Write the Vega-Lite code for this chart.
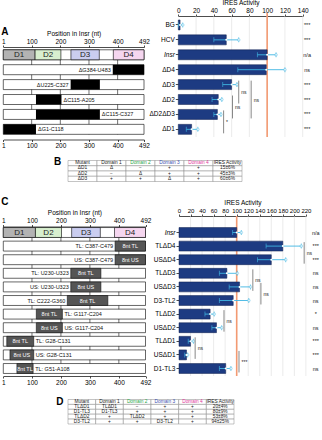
{
"$schema":"https://vega.github.io/schema/vega-lite/v6.json",
"width":322,"height":440,"autosize":"none","padding":0,"background":"white",
"config":{"font":"Liberation Sans","view":{"stroke":null},
 "axis":{"labelFontSize":6.5,"titleFontSize":6.5,"titleFontWeight":"normal","tickSize":2,"labelPadding":1,"titlePadding":2,"domainColor":"#000","tickColor":"#000","labelColor":"#000","titleColor":"#000","grid":false,"domainWidth":0.7,"tickWidth":0.7,"labelFlush":false,"labelOverlap":false}},
"datasets":{
 "ticks":[{"p":100},{"p":200},{"p":300},{"p":400}],
 "rowsA":[{"row":"Insr"},{"row":"ΔD4"},{"row":"ΔD3"},{"row":"ΔD2"},{"row":"ΔD2ΔD3"},{"row":"ΔD1"}],
 "rowsC":[{"row":"Insr"},{"row":"TLΔD4"},{"row":"USΔD4"},{"row":"TLΔD3"},{"row":"USΔD3"},{"row":"D3-TL2"},{"row":"TLΔD2"},{"row":"USΔD2"},{"row":"TLΔD1"},{"row":"USΔD1"},{"row":"D1-TL3"}],
 "domains":[{"d":"D1","s":1,"e":112},{"d":"D2","s":112,"e":202},{"d":"D3","s":237,"e":336},{"d":"D4","s":385,"e":492}],
 "delA":[{"row":"ΔD4","s":383,"e":492,"lab":"ΔG384-U483","side":"L"},{"row":"ΔD3","s":236,"e":338,"lab":"ΔU225-C327","side":"L"},{"row":"ΔD2","s":115,"e":204,"lab":"ΔC115-A205","side":"R"},{"row":"ΔD2ΔD3","s":115,"e":338,"lab":"ΔC115-C327","side":"R"},{"row":"ΔD1","s":1,"e":115,"lab":"ΔG1-C118","side":"R"}],
 "subC":[{"row":"TLΔD4","s":387,"e":492,"blk":"8nt TL","lab":"TL: C387-C479","side":"L"},{"row":"USΔD4","s":387,"e":492,"blk":"8nt US","lab":"US: C387-C479","side":"L"},{"row":"TLΔD3","s":234,"e":338,"blk":"8nt TL","lab":"TL: U230-U323","side":"L"},{"row":"USΔD3","s":234,"e":338,"blk":"8nt US","lab":"US: U230-U323","side":"L"},{"row":"D3-TL2","s":222,"e":362,"blk":"8nt TL","lab":"TL: C222-G360","side":"L"},{"row":"TLΔD2","s":115,"e":205,"blk":"8nt TL","lab":"TL: G117-C204","side":"R"},{"row":"USΔD2","s":115,"e":205,"blk":"8nt US","lab":"US: G117-C204","side":"R"},{"row":"TLΔD1","s":13,"e":106,"blk":"8nt TL","lab":"TL: G28-C131","side":"R"},{"row":"USΔD1","s":24,"e":106,"blk":"8nt US","lab":"US: G28-C131","side":"R"},{"row":"D1-TL3","s":48,"e":104,"blk":"8nt TL","lab":"TL: G51-A108","side":"R"}],
 "barsA":[{"cat":"BG","v":2,"lo":0,"hi":5,"sig":"***"},{"cat":"HCV","v":54,"lo":40,"hi":68,"sig":"***"},{"cat":"Insr","v":100,"lo":89,"hi":110,"sig":"n/a"},{"cat":"ΔD4","v":99,"lo":67,"hi":120,"sig":"ns"},{"cat":"ΔD3","v":60,"lo":50,"hi":66,"sig":"***"},{"cat":"ΔD2","v":45,"lo":38,"hi":49,"sig":"***"},{"cat":"ΔD2ΔD3","v":44,"lo":40,"hi":48,"sig":"***"},{"cat":"ΔD1","v":15,"lo":9,"hi":22,"sig":"***"}],
 "barsC":[{"cat":"Insr","v":100,"lo":93,"hi":108,"sig":"n/a"},{"cat":"TLΔD4","v":180,"lo":151,"hi":212,"sig":"***"},{"cat":"USΔD4","v":160,"lo":136,"hi":185,"sig":"***"},{"cat":"TLΔD3","v":83,"lo":70,"hi":101,"sig":"ns"},{"cat":"USΔD3","v":105,"lo":87,"hi":124,"sig":"ns"},{"cat":"D3-TL2","v":94,"lo":70,"hi":121,"sig":"ns"},{"cat":"TLΔD2","v":54,"lo":45,"hi":61,"sig":"*"},{"cat":"USΔD2","v":65,"lo":57,"hi":74,"sig":"ns"},{"cat":"TLΔD1","v":20,"lo":16,"hi":25,"sig":"***"},{"cat":"USΔD1","v":13,"lo":10,"hi":15,"sig":"***"},{"cat":"D1-TL3","v":81,"lo":70,"hi":90,"sig":"ns"}],
 "gridA":[{"v":20},{"v":40},{"v":60},{"v":80},{"v":100},{"v":120},{"v":140}],
 "gridC":[{"v":20},{"v":40},{"v":60},{"v":80},{"v":100},{"v":120},{"v":140},{"v":160},{"v":180},{"v":200},{"v":220}],
 "brA":[{"a":"ΔD3","b":"ΔD2","x":68,"lab":"ns"},{"a":"ΔD3","b":"ΔD2ΔD3","m":"ΔD2","x":82,"lab":"ns"},{"a":"ΔD2","b":"ΔD2ΔD3","x":61,"lab":"ns"},{"a":"ΔD2ΔD3","b":"ΔD1","x":51,"lab":"*"}],
 "brC":[{"a":"TLΔD4","b":"USΔD4","x":217,"lab":"ns"},{"a":"TLΔD3","b":"USΔD3","x":128,"lab":"ns"},{"a":"USΔD3","b":"D3-TL2","x":142,"lab":"ns"},{"a":"TLΔD2","b":"USΔD2","x":78,"lab":"ns"},{"a":"TLΔD1","b":"USΔD1","x":28,"lab":"ns"},{"a":"USΔD1","b":"D1-TL3","x":104,"lab":"***"}],
 "tabB":[{"r":"hdr","c":"Mutant","v":"Mutant"},{"r":"hdr","c":"Domain 1","v":"Domain 1"},{"r":"hdr","c":"Domain 2","v":"Domain 2"},{"r":"hdr","c":"Domain 3","v":"Domain 3"},{"r":"hdr","c":"Domain 4","v":"Domain 4"},{"r":"hdr","c":"IRES Activity","v":"IRES Activity"},
  {"r":"ΔD1","c":"Mutant","v":"ΔD1"},{"r":"ΔD1","c":"Domain 1","v":"Δ"},{"r":"ΔD1","c":"Domain 2","v":"−"},{"r":"ΔD1","c":"Domain 3","v":"+"},{"r":"ΔD1","c":"Domain 4","v":"+"},{"r":"ΔD1","c":"IRES Activity","v":"15±6%"},
  {"r":"ΔD2","c":"Mutant","v":"ΔD2"},{"r":"ΔD2","c":"Domain 1","v":"−"},{"r":"ΔD2","c":"Domain 2","v":"Δ"},{"r":"ΔD2","c":"Domain 3","v":"+"},{"r":"ΔD2","c":"Domain 4","v":"+"},{"r":"ΔD2","c":"IRES Activity","v":"45±3%"},
  {"r":"ΔD3","c":"Mutant","v":"ΔD3"},{"r":"ΔD3","c":"Domain 1","v":"+"},{"r":"ΔD3","c":"Domain 2","v":"+"},{"r":"ΔD3","c":"Domain 3","v":"Δ"},{"r":"ΔD3","c":"Domain 4","v":"+"},{"r":"ΔD3","c":"IRES Activity","v":"60±6%"}],
 "tabD":[{"r":"hdr","c":"Mutant","v":"Mutant"},{"r":"hdr","c":"Domain 1","v":"Domain 1"},{"r":"hdr","c":"Domain 2","v":"Domain 2"},{"r":"hdr","c":"Domain 3","v":"Domain 3"},{"r":"hdr","c":"Domain 4","v":"Domain 4"},{"r":"hdr","c":"IRES Activity","v":"IRES Activity"},
  {"r":"TLΔD1","c":"Mutant","v":"TLΔD1"},{"r":"TLΔD1","c":"Domain 1","v":"TLΔD1"},{"r":"TLΔD1","c":"Domain 2","v":"−"},{"r":"TLΔD1","c":"Domain 3","v":"+"},{"r":"TLΔD1","c":"Domain 4","v":"+"},{"r":"TLΔD1","c":"IRES Activity","v":"20±4%"},
  {"r":"D1-TL3","c":"Mutant","v":"D1-TL3"},{"r":"D1-TL3","c":"Domain 1","v":"D1-TL3"},{"r":"D1-TL3","c":"Domain 2","v":"+"},{"r":"D1-TL3","c":"Domain 3","v":"+"},{"r":"D1-TL3","c":"Domain 4","v":"+"},{"r":"D1-TL3","c":"IRES Activity","v":"80±9%"},
  {"r":"TLΔD2","c":"Mutant","v":"TLΔD2"},{"r":"TLΔD2","c":"Domain 1","v":"+"},{"r":"TLΔD2","c":"Domain 2","v":"TLΔD2"},{"r":"TLΔD2","c":"Domain 3","v":"+"},{"r":"TLΔD2","c":"Domain 4","v":"+"},{"r":"TLΔD2","c":"IRES Activity","v":"53±8%"},
  {"r":"D3-TL2","c":"Mutant","v":"D3-TL2"},{"r":"D3-TL2","c":"Domain 1","v":"+"},{"r":"D3-TL2","c":"Domain 2","v":"+"},{"r":"D3-TL2","c":"Domain 3","v":"D3-TL2"},{"r":"D3-TL2","c":"Domain 4","v":"+"},{"r":"D3-TL2","c":"IRES Activity","v":"94±25%"}]
},
"resolve":{"scale":{"x":"independent","y":"independent","color":"independent"},"axis":{"x":"independent","y":"independent"}},
"layer":[
 {"data":{"name":"ticks"},"mark":{"type":"rule","color":"#333","strokeWidth":0.7},"encoding":{"x":{"field":"p","type":"quantitative","scale":{"domain":[1,492],"range":[3.3,144],"nice":false,"zero":false},"axis":{"orient":"bottom","offset":-300.5,"values":[1,100,200,300,400,492],"title":null}},"y":{"datum":"Insr","type":"nominal","bandPosition":0,"scale":{"type":"band","domain":["BG","HCV","Insr","ΔD4","ΔD3","ΔD2","ΔD2ΔD3","ΔD1"],"range":[17.5,136.8],"paddingInner":0.33,"paddingOuter":0.165},"axis":null},"y2":{"datum":"ΔD1","bandPosition":1}}},
 {"data":{"name":"rowsA"},"mark":{"type":"rect","fill":"white","stroke":"#000","strokeWidth":0.6},"encoding":{"x":{"datum":1,"type":"quantitative","scale":{"domain":[1,492],"range":[3.3,144],"nice":false,"zero":false},"axis":null},"x2":{"datum":492},"y":{"field":"row","type":"nominal","scale":{"type":"band","domain":["BG","HCV","Insr","ΔD4","ΔD3","ΔD2","ΔD2ΔD3","ΔD1"],"range":[17.5,136.8],"paddingInner":0.33,"paddingOuter":0.165},"axis":null}}},
 {"data":{"name":"domains"},"mark":{"type":"rect","stroke":"#000","strokeWidth":0.6},"encoding":{"x":{"field":"s","type":"quantitative","scale":{"domain":[1,492],"range":[3.3,144],"nice":false,"zero":false},"axis":{"orient":"top","offset":-47,"values":[1,100,200,300,400,492],"title":"Position in Insr (nt)"}},"x2":{"field":"e"},"y":{"datum":"Insr","type":"nominal","scale":{"type":"band","domain":["BG","HCV","Insr","ΔD4","ΔD3","ΔD2","ΔD2ΔD3","ΔD1"],"range":[17.5,136.8],"paddingInner":0.33,"paddingOuter":0.165},"axis":null},"color":{"field":"d","type":"nominal","scale":{"domain":["D1","D2","D3","D4"],"range":["#b3b3b3","#d8efcf","#cacdf0","#f5d6ef"]},"legend":null}}},
 {"data":{"name":"domains"},"transform":[{"calculate":"(datum.s+datum.e)/2","as":"m"}],"mark":{"type":"text","fontSize":8,"color":"#222"},"encoding":{"x":{"field":"m","type":"quantitative","scale":{"domain":[1,492],"range":[3.3,144],"nice":false,"zero":false},"axis":null},"y":{"datum":"Insr","type":"nominal","scale":{"type":"band","domain":["BG","HCV","Insr","ΔD4","ΔD3","ΔD2","ΔD2ΔD3","ΔD1"],"range":[17.5,136.8],"paddingInner":0.33,"paddingOuter":0.165},"axis":null},"text":{"field":"d"}}},
 {"data":{"name":"delA"},"mark":{"type":"rect","fill":"#000"},"encoding":{"x":{"field":"s","type":"quantitative","scale":{"domain":[1,492],"range":[3.3,144],"nice":false,"zero":false},"axis":null},"x2":{"field":"e"},"y":{"field":"row","type":"nominal","scale":{"type":"band","domain":["BG","HCV","Insr","ΔD4","ΔD3","ΔD2","ΔD2ΔD3","ΔD1"],"range":[17.5,136.8],"paddingInner":0.33,"paddingOuter":0.165},"axis":null}}},
 {"data":{"name":"delA"},"transform":[{"filter":"datum.side==='L'"}],"mark":{"type":"text","fontSize":5.5,"align":"right","dx":-2,"color":"#111"},"encoding":{"x":{"field":"s","type":"quantitative","scale":{"domain":[1,492],"range":[3.3,144],"nice":false,"zero":false},"axis":null},"y":{"field":"row","type":"nominal","scale":{"type":"band","domain":["BG","HCV","Insr","ΔD4","ΔD3","ΔD2","ΔD2ΔD3","ΔD1"],"range":[17.5,136.8],"paddingInner":0.33,"paddingOuter":0.165},"axis":null},"text":{"field":"lab"}}},
 {"data":{"name":"delA"},"transform":[{"filter":"datum.side==='R'"}],"mark":{"type":"text","fontSize":5.5,"align":"left","dx":2,"color":"#111"},"encoding":{"x":{"field":"e","type":"quantitative","scale":{"domain":[1,492],"range":[3.3,144],"nice":false,"zero":false},"axis":null},"y":{"field":"row","type":"nominal","scale":{"type":"band","domain":["BG","HCV","Insr","ΔD4","ΔD3","ΔD2","ΔD2ΔD3","ΔD1"],"range":[17.5,136.8],"paddingInner":0.33,"paddingOuter":0.165},"axis":null},"text":{"field":"lab"}}},
 {"data":{"values":[{"t":"A"}]},"mark":{"type":"text","fontSize":10,"fontWeight":"bold","align":"left","dx":-2,"dy":-23},"encoding":{"x":{"datum":1,"type":"quantitative","scale":{"domain":[1,492],"range":[3.3,144],"nice":false,"zero":false},"axis":null},"y":{"datum":"Insr","type":"nominal","scale":{"type":"band","domain":["BG","HCV","Insr","ΔD4","ΔD3","ΔD2","ΔD2ΔD3","ΔD1"],"range":[17.5,136.8],"paddingInner":0.33,"paddingOuter":0.165},"axis":null},"text":{"field":"t"}}},

 {"data":{"name":"gridA"},"mark":{"type":"rule","color":"#dedede","strokeWidth":0.6},"encoding":{"x":{"field":"v","type":"quantitative","scale":{"domain":[0,140],"range":[178.3,302.7],"nice":false,"zero":false},"axis":null},"y":{"datum":0,"type":"quantitative","scale":{"domain":[0,1],"range":[16,137],"nice":false,"zero":false},"axis":null},"y2":{"datum":1}}},
 {"data":{"values":[{"v":100}]},"mark":{"type":"rule","color":"#f39a72","strokeWidth":1.6},"encoding":{"x":{"field":"v","type":"quantitative","scale":{"domain":[0,140],"range":[178.3,302.7],"nice":false,"zero":false},"axis":null},"y":{"datum":0,"type":"quantitative","scale":{"domain":[0,1],"range":[13,137],"nice":false,"zero":false},"axis":null},"y2":{"datum":1}}},
 {"data":{"name":"barsA"},"mark":{"type":"bar","color":"#1d3b82","stroke":"#0f1f4d","strokeWidth":0.5},"encoding":{"x":{"field":"v","type":"quantitative","scale":{"domain":[0,140],"range":[178.3,302.7],"nice":false,"zero":false},"axis":{"orient":"top","offset":-16,"values":[0,20,40,60,80,100,120,140],"title":"IRES Activity"}},"y":{"field":"cat","type":"nominal","scale":{"type":"band","domain":["BG","HCV","Insr","ΔD4","ΔD3","ΔD2","ΔD2ΔD3","ΔD1"],"range":[17.5,136.8],"paddingInner":0.33,"paddingOuter":0.165},"axis":{"orient":"left","offset":-178.3,"title":null,"domain":false,"tickSize":3,"labelPadding":1,"labelFontStyle":{"expr":"datum.value === 'Insr' ? 'italic' : 'normal'"}}}}},
 {"data":{"name":"barsA"},"mark":{"type":"rule","color":"#3fb6e3","strokeWidth":0.9},"encoding":{"x":{"field":"lo","type":"quantitative","scale":{"domain":[0,140],"range":[178.3,302.7],"nice":false,"zero":false},"axis":null},"x2":{"field":"hi"},"y":{"field":"cat","type":"nominal","scale":{"type":"band","domain":["BG","HCV","Insr","ΔD4","ΔD3","ΔD2","ΔD2ΔD3","ΔD1"],"range":[17.5,136.8],"paddingInner":0.33,"paddingOuter":0.165},"axis":null}}},
 {"data":{"name":"barsA"},"transform":[{"fold":["lo","hi"],"as":["k","xv"]}],"mark":{"type":"tick","color":"#3fb6e3","thickness":0.9,"size":5,"orient":"vertical"},"encoding":{"x":{"field":"xv","type":"quantitative","scale":{"domain":[0,140],"range":[178.3,302.7],"nice":false,"zero":false},"axis":null},"y":{"field":"cat","type":"nominal","scale":{"type":"band","domain":["BG","HCV","Insr","ΔD4","ΔD3","ΔD2","ΔD2ΔD3","ΔD1"],"range":[17.5,136.8],"paddingInner":0.33,"paddingOuter":0.165},"axis":null}}},
 {"data":{"name":"barsA"},"mark":{"type":"point","shape":"circle","filled":true,"fill":"white","stroke":"#3fb6e3","strokeWidth":0.6,"size":7},"encoding":{"x":{"field":"hi","type":"quantitative","scale":{"domain":[0,140],"range":[178.3,302.7],"nice":false,"zero":false},"axis":null},"y":{"field":"cat","type":"nominal","scale":{"type":"band","domain":["BG","HCV","Insr","ΔD4","ΔD3","ΔD2","ΔD2ΔD3","ΔD1"],"range":[17.5,136.8],"paddingInner":0.33,"paddingOuter":0.165},"axis":null}}},
 {"data":{"name":"barsA"},"mark":{"type":"circle","color":"white","size":4,"opacity":1},"encoding":{"x":{"field":"v","type":"quantitative","scale":{"domain":[0,140],"range":[178.3,302.7],"nice":false,"zero":false},"axis":null},"y":{"field":"cat","type":"nominal","scale":{"type":"band","domain":["BG","HCV","Insr","ΔD4","ΔD3","ΔD2","ΔD2ΔD3","ΔD1"],"range":[17.5,136.8],"paddingInner":0.33,"paddingOuter":0.165},"axis":null}}},
 {"data":{"name":"barsA"},"mark":{"type":"text","fontSize":5.5,"color":"#222"},"encoding":{"x":{"datum":145,"type":"quantitative","scale":{"domain":[0,140],"range":[178.3,302.7],"nice":false,"zero":false},"axis":null},"y":{"field":"cat","type":"nominal","scale":{"type":"band","domain":["BG","HCV","Insr","ΔD4","ΔD3","ΔD2","ΔD2ΔD3","ΔD1"],"range":[17.5,136.8],"paddingInner":0.33,"paddingOuter":0.165},"axis":null},"text":{"field":"sig"}}},
 {"data":{"name":"brA"},"mark":{"type":"rule","color":"#888","strokeWidth":1},"encoding":{"x":{"field":"x","type":"quantitative","scale":{"domain":[0,140],"range":[178.3,302.7],"nice":false,"zero":false},"axis":null},"y":{"field":"a","type":"nominal","bandPosition":0.1,"scale":{"type":"band","domain":["BG","HCV","Insr","ΔD4","ΔD3","ΔD2","ΔD2ΔD3","ΔD1"],"range":[17.5,136.8],"paddingInner":0.33,"paddingOuter":0.165},"axis":null},"y2":{"field":"b","bandPosition":0.9}}},
 {"data":{"name":"brA"},"transform":[{"filter":"isValid(datum.m)"}],"mark":{"type":"text","fontSize":5,"align":"left","dx":2.5,"color":"#222"},"encoding":{"x":{"field":"x","type":"quantitative","scale":{"domain":[0,140],"range":[178.3,302.7],"nice":false,"zero":false},"axis":null},"y":{"field":"m","type":"nominal","scale":{"type":"band","domain":["BG","HCV","Insr","ΔD4","ΔD3","ΔD2","ΔD2ΔD3","ΔD1"],"range":[17.5,136.8],"paddingInner":0.33,"paddingOuter":0.165},"axis":null},"text":{"field":"lab"}}},
 {"data":{"name":"brA"},"transform":[{"filter":"!isValid(datum.m)"}],"mark":{"type":"text","fontSize":5,"align":"left","dx":2.5,"dy":7.45,"color":"#222"},"encoding":{"x":{"field":"x","type":"quantitative","scale":{"domain":[0,140],"range":[178.3,302.7],"nice":false,"zero":false},"axis":null},"y":{"field":"a","type":"nominal","scale":{"type":"band","domain":["BG","HCV","Insr","ΔD4","ΔD3","ΔD2","ΔD2ΔD3","ΔD1"],"range":[17.5,136.8],"paddingInner":0.33,"paddingOuter":0.165},"axis":null},"text":{"field":"lab"}}},

 {"data":{"name":"ticks"},"mark":{"type":"rule","color":"#333","strokeWidth":0.7},"encoding":{"x":{"field":"p","type":"quantitative","scale":{"domain":[1,492],"range":[3.3,145.5],"nice":false,"zero":false},"axis":{"orient":"bottom","offset":-64,"values":[1,100,200,300,400,492],"title":null}},"y":{"datum":"Insr","type":"nominal","bandPosition":0,"scale":{"type":"band","domain":["Insr","TLΔD4","USΔD4","TLΔD3","USΔD3","D3-TL2","TLΔD2","USΔD2","TLΔD1","USΔD1","D1-TL3"],"range":[225.7,375.3],"paddingInner":0.27,"paddingOuter":0.135},"axis":null},"y2":{"datum":"D1-TL3","bandPosition":1}}},
 {"data":{"name":"rowsC"},"mark":{"type":"rect","fill":"white","stroke":"#000","strokeWidth":0.6},"encoding":{"x":{"datum":1,"type":"quantitative","scale":{"domain":[1,492],"range":[3.3,145.5],"nice":false,"zero":false},"axis":null},"x2":{"datum":492},"y":{"field":"row","type":"nominal","scale":{"type":"band","domain":["Insr","TLΔD4","USΔD4","TLΔD3","USΔD3","D3-TL2","TLΔD2","USΔD2","TLΔD1","USΔD1","D1-TL3"],"range":[225.7,375.3],"paddingInner":0.27,"paddingOuter":0.135},"axis":null}}},
 {"data":{"name":"domains"},"mark":{"type":"rect","stroke":"#000","strokeWidth":0.6},"encoding":{"x":{"field":"s","type":"quantitative","scale":{"domain":[1,492],"range":[3.3,145.5],"nice":false,"zero":false},"axis":{"orient":"top","offset":-226.5,"values":[1,100,200,300,400,492],"title":"Position in Insr (nt)"}},"x2":{"field":"e"},"y":{"datum":"Insr","type":"nominal","scale":{"type":"band","domain":["Insr","TLΔD4","USΔD4","TLΔD3","USΔD3","D3-TL2","TLΔD2","USΔD2","TLΔD1","USΔD1","D1-TL3"],"range":[225.7,375.3],"paddingInner":0.27,"paddingOuter":0.135},"axis":null},"color":{"field":"d","type":"nominal","scale":{"domain":["D1","D2","D3","D4"],"range":["#b3b3b3","#d8efcf","#cacdf0","#f5d6ef"]},"legend":null}}},
 {"data":{"name":"domains"},"transform":[{"calculate":"(datum.s+datum.e)/2","as":"m"}],"mark":{"type":"text","fontSize":8,"color":"#222"},"encoding":{"x":{"field":"m","type":"quantitative","scale":{"domain":[1,492],"range":[3.3,145.5],"nice":false,"zero":false},"axis":null},"y":{"datum":"Insr","type":"nominal","scale":{"type":"band","domain":["Insr","TLΔD4","USΔD4","TLΔD3","USΔD3","D3-TL2","TLΔD2","USΔD2","TLΔD1","USΔD1","D1-TL3"],"range":[225.7,375.3],"paddingInner":0.27,"paddingOuter":0.135},"axis":null},"text":{"field":"d"}}},
 {"data":{"name":"subC"},"mark":{"type":"rect","fill":"#555","stroke":"#111","strokeWidth":0.6},"encoding":{"x":{"field":"s","type":"quantitative","scale":{"domain":[1,492],"range":[3.3,145.5],"nice":false,"zero":false},"axis":null},"x2":{"field":"e"},"y":{"field":"row","type":"nominal","scale":{"type":"band","domain":["Insr","TLΔD4","USΔD4","TLΔD3","USΔD3","D3-TL2","TLΔD2","USΔD2","TLΔD1","USΔD1","D1-TL3"],"range":[225.7,375.3],"paddingInner":0.27,"paddingOuter":0.135},"axis":null}}},
 {"data":{"name":"subC"},"transform":[{"calculate":"(datum.s+datum.e)/2","as":"m"}],"mark":{"type":"text","fontSize":5.5,"color":"white"},"encoding":{"x":{"field":"m","type":"quantitative","scale":{"domain":[1,492],"range":[3.3,145.5],"nice":false,"zero":false},"axis":null},"y":{"field":"row","type":"nominal","scale":{"type":"band","domain":["Insr","TLΔD4","USΔD4","TLΔD3","USΔD3","D3-TL2","TLΔD2","USΔD2","TLΔD1","USΔD1","D1-TL3"],"range":[225.7,375.3],"paddingInner":0.27,"paddingOuter":0.135},"axis":null},"text":{"field":"blk"}}},
 {"data":{"name":"subC"},"transform":[{"filter":"datum.side==='L'"}],"mark":{"type":"text","fontSize":5.5,"align":"right","dx":-2,"color":"#111"},"encoding":{"x":{"field":"s","type":"quantitative","scale":{"domain":[1,492],"range":[3.3,145.5],"nice":false,"zero":false},"axis":null},"y":{"field":"row","type":"nominal","scale":{"type":"band","domain":["Insr","TLΔD4","USΔD4","TLΔD3","USΔD3","D3-TL2","TLΔD2","USΔD2","TLΔD1","USΔD1","D1-TL3"],"range":[225.7,375.3],"paddingInner":0.27,"paddingOuter":0.135},"axis":null},"text":{"field":"lab"}}},
 {"data":{"name":"subC"},"transform":[{"filter":"datum.side==='R'"}],"mark":{"type":"text","fontSize":5.5,"align":"left","dx":2,"color":"#111"},"encoding":{"x":{"field":"e","type":"quantitative","scale":{"domain":[1,492],"range":[3.3,145.5],"nice":false,"zero":false},"axis":null},"y":{"field":"row","type":"nominal","scale":{"type":"band","domain":["Insr","TLΔD4","USΔD4","TLΔD3","USΔD3","D3-TL2","TLΔD2","USΔD2","TLΔD1","USΔD1","D1-TL3"],"range":[225.7,375.3],"paddingInner":0.27,"paddingOuter":0.135},"axis":null},"text":{"field":"lab"}}},
 {"data":{"values":[{"t":"C"}]},"mark":{"type":"text","fontSize":10,"fontWeight":"bold","align":"left","dx":-2,"dy":-30.5},"encoding":{"x":{"datum":1,"type":"quantitative","scale":{"domain":[1,492],"range":[3.3,145.5],"nice":false,"zero":false},"axis":null},"y":{"datum":"Insr","type":"nominal","scale":{"type":"band","domain":["Insr","TLΔD4","USΔD4","TLΔD3","USΔD3","D3-TL2","TLΔD2","USΔD2","TLΔD1","USΔD1","D1-TL3"],"range":[225.7,375.3],"paddingInner":0.27,"paddingOuter":0.135},"axis":null},"text":{"field":"t"}}},

 {"data":{"name":"gridC"},"mark":{"type":"rule","color":"#dedede","strokeWidth":0.6},"encoding":{"x":{"field":"v","type":"quantitative","scale":{"domain":[0,220],"range":[179,305.9],"nice":false,"zero":false},"axis":null},"y":{"datum":0,"type":"quantitative","scale":{"domain":[0,1],"range":[216,376],"nice":false,"zero":false},"axis":null},"y2":{"datum":1}}},
 {"data":{"values":[{"v":100}]},"mark":{"type":"rule","color":"#f39a72","strokeWidth":1.6},"encoding":{"x":{"field":"v","type":"quantitative","scale":{"domain":[0,220],"range":[179,305.9],"nice":false,"zero":false},"axis":null},"y":{"datum":0,"type":"quantitative","scale":{"domain":[0,1],"range":[216,376],"nice":false,"zero":false},"axis":null},"y2":{"datum":1}}},
 {"data":{"name":"barsC"},"mark":{"type":"bar","color":"#1d3b82","stroke":"#0f1f4d","strokeWidth":0.5},"encoding":{"x":{"field":"v","type":"quantitative","scale":{"domain":[0,220],"range":[179,305.9],"nice":false,"zero":false},"axis":{"orient":"top","offset":-216,"values":[0,20,40,60,80,100,120,140,160,180,200,220],"title":"IRES Activity","labelFontSize":6}},"y":{"field":"cat","type":"nominal","scale":{"type":"band","domain":["Insr","TLΔD4","USΔD4","TLΔD3","USΔD3","D3-TL2","TLΔD2","USΔD2","TLΔD1","USΔD1","D1-TL3"],"range":[225.7,375.3],"paddingInner":0.27,"paddingOuter":0.135},"axis":{"orient":"left","offset":-179,"title":null,"domain":false,"tickSize":3,"labelPadding":1,"labelFontStyle":{"expr":"datum.value === 'Insr' ? 'italic' : 'normal'"}}}}},
 {"data":{"name":"barsC"},"mark":{"type":"rule","color":"#3fb6e3","strokeWidth":0.9},"encoding":{"x":{"field":"lo","type":"quantitative","scale":{"domain":[0,220],"range":[179,305.9],"nice":false,"zero":false},"axis":null},"x2":{"field":"hi"},"y":{"field":"cat","type":"nominal","scale":{"type":"band","domain":["Insr","TLΔD4","USΔD4","TLΔD3","USΔD3","D3-TL2","TLΔD2","USΔD2","TLΔD1","USΔD1","D1-TL3"],"range":[225.7,375.3],"paddingInner":0.27,"paddingOuter":0.135},"axis":null}}},
 {"data":{"name":"barsC"},"transform":[{"fold":["lo","hi"],"as":["k","xv"]}],"mark":{"type":"tick","color":"#3fb6e3","thickness":0.9,"size":5,"orient":"vertical"},"encoding":{"x":{"field":"xv","type":"quantitative","scale":{"domain":[0,220],"range":[179,305.9],"nice":false,"zero":false},"axis":null},"y":{"field":"cat","type":"nominal","scale":{"type":"band","domain":["Insr","TLΔD4","USΔD4","TLΔD3","USΔD3","D3-TL2","TLΔD2","USΔD2","TLΔD1","USΔD1","D1-TL3"],"range":[225.7,375.3],"paddingInner":0.27,"paddingOuter":0.135},"axis":null}}},
 {"data":{"name":"barsC"},"mark":{"type":"point","shape":"circle","filled":true,"fill":"white","stroke":"#3fb6e3","strokeWidth":0.6,"size":7},"encoding":{"x":{"field":"hi","type":"quantitative","scale":{"domain":[0,220],"range":[179,305.9],"nice":false,"zero":false},"axis":null},"y":{"field":"cat","type":"nominal","scale":{"type":"band","domain":["Insr","TLΔD4","USΔD4","TLΔD3","USΔD3","D3-TL2","TLΔD2","USΔD2","TLΔD1","USΔD1","D1-TL3"],"range":[225.7,375.3],"paddingInner":0.27,"paddingOuter":0.135},"axis":null}}},
 {"data":{"name":"barsC"},"mark":{"type":"circle","color":"white","size":4,"opacity":1},"encoding":{"x":{"field":"v","type":"quantitative","scale":{"domain":[0,220],"range":[179,305.9],"nice":false,"zero":false},"axis":null},"y":{"field":"cat","type":"nominal","scale":{"type":"band","domain":["Insr","TLΔD4","USΔD4","TLΔD3","USΔD3","D3-TL2","TLΔD2","USΔD2","TLΔD1","USΔD1","D1-TL3"],"range":[225.7,375.3],"paddingInner":0.27,"paddingOuter":0.135},"axis":null}}},
 {"data":{"name":"barsC"},"mark":{"type":"text","fontSize":5.5,"color":"#222"},"encoding":{"x":{"datum":237,"type":"quantitative","scale":{"domain":[0,220],"range":[179,305.9],"nice":false,"zero":false},"axis":null},"y":{"field":"cat","type":"nominal","scale":{"type":"band","domain":["Insr","TLΔD4","USΔD4","TLΔD3","USΔD3","D3-TL2","TLΔD2","USΔD2","TLΔD1","USΔD1","D1-TL3"],"range":[225.7,375.3],"paddingInner":0.27,"paddingOuter":0.135},"axis":null},"text":{"field":"sig"}}},
 {"data":{"name":"brC"},"mark":{"type":"rule","color":"#888","strokeWidth":1},"encoding":{"x":{"field":"x","type":"quantitative","scale":{"domain":[0,220],"range":[179,305.9],"nice":false,"zero":false},"axis":null},"y":{"field":"a","type":"nominal","bandPosition":0.1,"scale":{"type":"band","domain":["Insr","TLΔD4","USΔD4","TLΔD3","USΔD3","D3-TL2","TLΔD2","USΔD2","TLΔD1","USΔD1","D1-TL3"],"range":[225.7,375.3],"paddingInner":0.27,"paddingOuter":0.135},"axis":null},"y2":{"field":"b","bandPosition":0.9}}},
 {"data":{"name":"brC"},"mark":{"type":"text","fontSize":5,"align":"left","dx":2.5,"dy":6.8,"color":"#222"},"encoding":{"x":{"field":"x","type":"quantitative","scale":{"domain":[0,220],"range":[179,305.9],"nice":false,"zero":false},"axis":null},"y":{"field":"a","type":"nominal","scale":{"type":"band","domain":["Insr","TLΔD4","USΔD4","TLΔD3","USΔD3","D3-TL2","TLΔD2","USΔD2","TLΔD1","USΔD1","D1-TL3"],"range":[225.7,375.3],"paddingInner":0.27,"paddingOuter":0.135},"axis":null},"text":{"field":"lab"}}},

 {"data":{"name":"tabB"},"mark":{"type":"rect","fill":"white","stroke":"#888","strokeWidth":0.5},"encoding":{"x":{"field":"c","type":"nominal","scale":{"type":"band","domain":["Mutant","Domain 1","Domain 2","Domain 3","Domain 4","IRES Activity"],"range":[68,242],"paddingInner":0,"paddingOuter":0},"axis":null},"y":{"field":"r","type":"nominal","scale":{"type":"band","domain":["hdr","ΔD1","ΔD2","ΔD3"],"range":[160.5,181.5],"paddingInner":0,"paddingOuter":0},"axis":null}}},
 {"data":{"name":"tabB"},"transform":[{"filter":"datum.r==='hdr'"}],"mark":{"type":"text","fontSize":4.8},"encoding":{"x":{"field":"c","type":"nominal","scale":{"type":"band","domain":["Mutant","Domain 1","Domain 2","Domain 3","Domain 4","IRES Activity"],"range":[68,242],"paddingInner":0,"paddingOuter":0},"axis":null},"y":{"field":"r","type":"nominal","scale":{"type":"band","domain":["hdr","ΔD1","ΔD2","ΔD3"],"range":[160.5,181.5],"paddingInner":0,"paddingOuter":0},"axis":null},"text":{"field":"v"},"color":{"field":"c","type":"nominal","scale":{"domain":["Mutant","Domain 1","Domain 2","Domain 3","Domain 4","IRES Activity"],"range":["#222","#222","#2aa84a","#3b4fb0","#e0359b","#222"]},"legend":null}}},
 {"data":{"name":"tabB"},"transform":[{"filter":"datum.r!=='hdr'"}],"mark":{"type":"text","fontSize":4.8,"color":"#222"},"encoding":{"x":{"field":"c","type":"nominal","scale":{"type":"band","domain":["Mutant","Domain 1","Domain 2","Domain 3","Domain 4","IRES Activity"],"range":[68,242],"paddingInner":0,"paddingOuter":0},"axis":null},"y":{"field":"r","type":"nominal","scale":{"type":"band","domain":["hdr","ΔD1","ΔD2","ΔD3"],"range":[160.5,181.5],"paddingInner":0,"paddingOuter":0},"axis":null},"text":{"field":"v"}}},
 {"data":{"values":[{"t":"B"}]},"mark":{"type":"text","fontSize":10,"fontWeight":"bold","dx":-25,"dy":-1},"encoding":{"x":{"datum":"Mutant","type":"nominal","scale":{"type":"band","domain":["Mutant","Domain 1","Domain 2","Domain 3","Domain 4","IRES Activity"],"range":[68,242],"paddingInner":0,"paddingOuter":0},"axis":null},"y":{"datum":"hdr","type":"nominal","scale":{"type":"band","domain":["hdr","ΔD1","ΔD2","ΔD3"],"range":[160.5,181.5],"paddingInner":0,"paddingOuter":0},"axis":null},"text":{"field":"t"}}},

 {"data":{"name":"tabD"},"mark":{"type":"rect","fill":"white","stroke":"#888","strokeWidth":0.5},"encoding":{"x":{"field":"c","type":"nominal","scale":{"type":"band","domain":["Mutant","Domain 1","Domain 2","Domain 3","Domain 4","IRES Activity"],"range":[68,234],"paddingInner":0,"paddingOuter":0},"axis":null},"y":{"field":"r","type":"nominal","scale":{"type":"band","domain":["hdr","TLΔD1","D1-TL3","TLΔD2","D3-TL2"],"range":[399.5,424],"paddingInner":0,"paddingOuter":0},"axis":null}}},
 {"data":{"name":"tabD"},"transform":[{"filter":"datum.r==='hdr'"}],"mark":{"type":"text","fontSize":4.8},"encoding":{"x":{"field":"c","type":"nominal","scale":{"type":"band","domain":["Mutant","Domain 1","Domain 2","Domain 3","Domain 4","IRES Activity"],"range":[68,234],"paddingInner":0,"paddingOuter":0},"axis":null},"y":{"field":"r","type":"nominal","scale":{"type":"band","domain":["hdr","TLΔD1","D1-TL3","TLΔD2","D3-TL2"],"range":[399.5,424],"paddingInner":0,"paddingOuter":0},"axis":null},"text":{"field":"v"},"color":{"field":"c","type":"nominal","scale":{"domain":["Mutant","Domain 1","Domain 2","Domain 3","Domain 4","IRES Activity"],"range":["#222","#222","#2aa84a","#3b4fb0","#e0359b","#222"]},"legend":null}}},
 {"data":{"name":"tabD"},"transform":[{"filter":"datum.r!=='hdr'"}],"mark":{"type":"text","fontSize":4.8,"color":"#222"},"encoding":{"x":{"field":"c","type":"nominal","scale":{"type":"band","domain":["Mutant","Domain 1","Domain 2","Domain 3","Domain 4","IRES Activity"],"range":[68,234],"paddingInner":0,"paddingOuter":0},"axis":null},"y":{"field":"r","type":"nominal","scale":{"type":"band","domain":["hdr","TLΔD1","D1-TL3","TLΔD2","D3-TL2"],"range":[399.5,424],"paddingInner":0,"paddingOuter":0},"axis":null},"text":{"field":"v"}}},
 {"data":{"values":[{"t":"D"}]},"mark":{"type":"text","fontSize":10,"fontWeight":"bold","dx":-22,"dy":0},"encoding":{"x":{"datum":"Mutant","type":"nominal","scale":{"type":"band","domain":["Mutant","Domain 1","Domain 2","Domain 3","Domain 4","IRES Activity"],"range":[68,234],"paddingInner":0,"paddingOuter":0},"axis":null},"y":{"datum":"hdr","type":"nominal","scale":{"type":"band","domain":["hdr","TLΔD1","D1-TL3","TLΔD2","D3-TL2"],"range":[399.5,424],"paddingInner":0,"paddingOuter":0},"axis":null},"text":{"field":"t"}}}
]
}
